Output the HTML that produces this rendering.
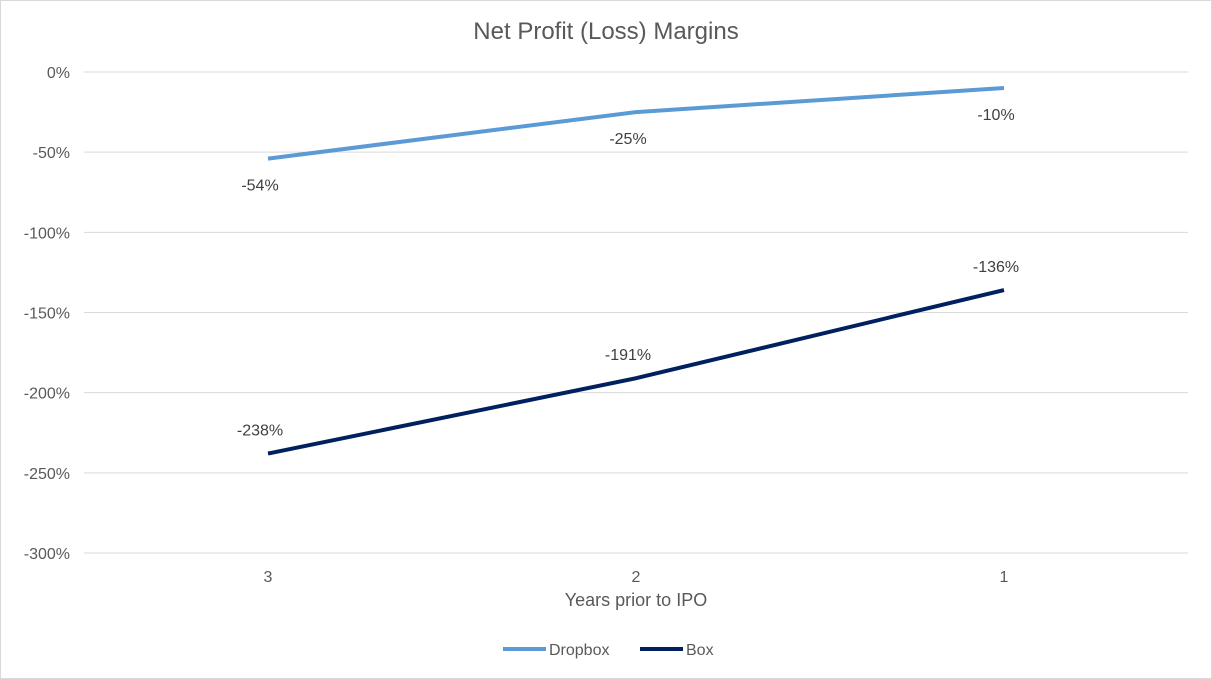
<!DOCTYPE html>
<html><head><meta charset="utf-8"><style>
body{margin:0;background:#fff;}
svg{display:block;font-family:"Liberation Sans",Arial,sans-serif;}
</style></head><body>
<svg id="chart" width="1212" height="679">
<rect x="0.5" y="0.5" width="1211" height="678" fill="#fff" stroke="#d9d9d9"/>
<text x="606" y="39" text-anchor="middle" font-size="24" fill="#595959">Net Profit (Loss) Margins</text>
<g id="grid"></g><g id="yticks"></g><g id="xticks"></g><g id="series"></g>
<text x="636" y="606" text-anchor="middle" font-size="18" fill="#595959">Years prior to IPO</text>
<g>
<line x1="503" y1="649" x2="546" y2="649" stroke="#5b9bd5" stroke-width="4"/>
<text x="549" y="655" font-size="16" fill="#595959">Dropbox</text>
<line x1="640" y1="649" x2="683" y2="649" stroke="#002060" stroke-width="4"/>
<text x="686" y="655" font-size="16" fill="#595959">Box</text>
</g>
</svg>
<script>
const categories=["3","2","1"];
const dropboxValues=[-54,-25,-10];
const boxValues=[-238,-191,-136];
const yTicks=[0,-50,-100,-150,-200,-250,-300];
const NS="http://www.w3.org/2000/svg";
const plotLeft=84,plotRight=1188,plotTop=72,plotBottom=553;
const yScale=v=>plotTop+(0-v)/300*(plotBottom-plotTop);
const bandW=(plotRight-plotLeft)/categories.length;
const xScale=i=>plotLeft+bandW*(i+0.5);
function mk(tag,attrs,parent,text){const e=document.createElementNS(NS,tag);for(const k in attrs)e.setAttribute(k,attrs[k]);if(text!==undefined)e.textContent=text;document.getElementById(parent).appendChild(e);return e;}
yTicks.forEach(t=>{
 const l=mk("line",{x1:plotLeft,x2:plotRight,y1:yScale(t),y2:yScale(t),stroke:"#d9d9d9","stroke-width":1},"grid");
 
 
 const tx=mk("text",{x:70,y:yScale(t)+6,"text-anchor":"end","font-size":16,fill:"#595959"},"yticks",t+"%");
 
 
});
categories.forEach((c,i)=>{
 const tx=mk("text",{x:xScale(i),y:582,"text-anchor":"middle","font-size":16,fill:"#595959"},"xticks",c);
 
 
});
function drawSeries(vals,color,name,below){
 const p=mk("polyline",{points:vals.map((v,i)=>xScale(i)+","+yScale(v)).join(" "),fill:"none",stroke:color,"stroke-width":4,"stroke-linejoin":"round"},"series");
 
 
 vals.forEach((v,i)=>{
  const t=mk("text",{x:xScale(i)-8,y:below?yScale(v)+32:yScale(v)-18,"text-anchor":"middle","font-size":16,fill:"#404040"},"series",v+"%");
  
  
 });
}
drawSeries(dropboxValues,"#5b9bd5","dropbox",true);
drawSeries(boxValues,"#002060","box",false);
</script>
</body></html>
